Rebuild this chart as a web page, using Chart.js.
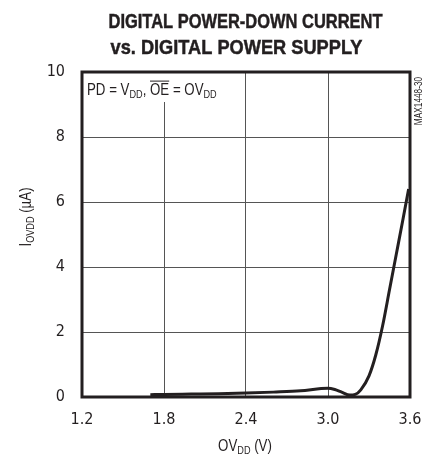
<!DOCTYPE html>
<html>
<head>
<meta charset="utf-8">
<script src="https://cdn.jsdelivr.net/npm/chart.js@4.4.1/dist/chart.umd.min.js"></script>
<style>
  html, body { margin: 0; padding: 0; background: #fff; }
  #wrap { width: 427px; height: 459px; }
</style>
</head>
<body>
<div id="wrap"><canvas id="chart"></canvas></div>
<script>
// supply voltage (V) and current (uA)
var supplyVolts = [1.7, 1.8, 2.0, 2.2, 2.4, 2.6, 2.8, 2.95, 3.0, 3.05, 3.1, 3.16, 3.2, 3.24, 3.3, 3.35, 3.4, 3.45, 3.5, 3.55, 3.59];
var currentUA   = [0.07, 0.08, 0.09, 0.1, 0.12, 0.15, 0.19, 0.26, 0.27, 0.23, 0.15, 0.06, 0.08, 0.22, 0.65, 1.3, 2.2, 3.3, 4.4, 5.5, 6.4];
var xTicks = [1.2, 1.8, 2.4, 3.0, 3.6];
var yTicks = [0, 2, 4, 6, 8, 10];

var FONT = '"Liberation Sans", Arial, sans-serif';
var TICK_FONT = '"DejaVu Sans Condensed", "Liberation Sans", sans-serif';
var SQUEEZE = 0.83;   // fake a condensed face
var INK = '#231f20';

var points = supplyVolts.map(function (v, i) { return { x: v, y: currentUA[i] }; });

// draws text pieces with subscripts / overline in one row, squeezed sideways
function drawRuns(ctx, runs, x, y, size, align) {
    var subSize = Math.round(size * 0.7);
    var total = 0;
    runs.forEach(function (r) {
        ctx.font = (r.sub ? subSize : size) + 'px ' + FONT;
        r.w = ctx.measureText(r.t).width;
        total += r.w;
    });
    ctx.save();
    ctx.translate(x, y);
    ctx.scale(SQUEEZE, 1);
    var cx = align === 'center' ? -total / 2 : 0;
    ctx.textAlign = 'left';
    ctx.textBaseline = 'alphabetic';
    runs.forEach(function (r) {
        ctx.font = (r.sub ? subSize : size) + 'px ' + FONT;
        ctx.fillText(r.t, cx, r.sub ? size * 0.2 : 0);
        if (r.over) {
            ctx.fillRect(cx, -size * 0.9, r.w, 1);
        }
        cx += r.w;
    });
    ctx.restore();
}

// title line squeezed to the width it has in the original
function titleLine(ctx, text, cx, y, width) {
    ctx.font = 'bold 21px ' + FONT;
    var w = ctx.measureText(text).width;
    ctx.save();
    ctx.translate(cx, y);
    ctx.scale(width / w, 1);
    ctx.textAlign = 'center';
    ctx.textBaseline = 'alphabetic';
    ctx.lineWidth = 0.5;
    ctx.strokeStyle = INK;
    ctx.fillText(text, 0, 0);
    ctx.strokeText(text, 0, 0);
    ctx.restore();
}

var decorPlugin = {
    id: 'decor',
    beforeDatasetsDraw: function (chart) {
        var ctx = chart.ctx;
        var a = chart.chartArea;
        // white box behind the condition note
        ctx.save();
        ctx.fillStyle = '#fff';
        ctx.fillRect(a.left + 1, a.top + 1, 146, 29);
        ctx.restore();
    },
    afterDraw: function (chart) {
        var ctx = chart.ctx;
        var a = chart.chartArea;
        ctx.save();
        ctx.fillStyle = INK;

        titleLine(ctx, 'DIGITAL POWER-DOWN CURRENT', 245.5, 28, 274);
        titleLine(ctx, 'vs. DIGITAL POWER SUPPLY', 236.5, 54, 252);

        // frame
        ctx.strokeStyle = INK;
        ctx.lineWidth = 3;
        ctx.strokeRect(a.left, a.top, a.right - a.left, a.bottom - a.top);

        // condition note
        drawRuns(ctx, [
            { t: 'PD = V' }, { t: 'DD', sub: true }, { t: ', ' },
            { t: 'OE', over: true }, { t: ' = OV' }, { t: 'DD', sub: true }
        ], a.left + 5, a.top + 23, 16, 'left');

        // x axis title
        drawRuns(ctx, [{ t: 'OV' }, { t: 'DD', sub: true }, { t: ' (V)' }], 245, 451, 16, 'center');

        // y axis title
        ctx.save();
        ctx.translate(31, 217);
        ctx.rotate(-Math.PI / 2);
        drawRuns(ctx, [{ t: 'I' }, { t: 'OVDD', sub: true }, { t: ' (\u00b5A)' }], 0, 0, 16, 'center');
        ctx.restore();

        // part tag
        ctx.save();
        ctx.translate(422, 101);
        ctx.rotate(-Math.PI / 2);
        ctx.scale(SQUEEZE, 1);
        ctx.font = '10px ' + FONT;
        ctx.textAlign = 'center';
        ctx.fillText('MAX1448-30', 0, 0);
        ctx.restore();

        ctx.restore();
    }
};

new Chart(document.getElementById('chart'), {
    type: 'line',
    data: {
        datasets: [{
            data: points,
            borderColor: INK,
            borderWidth: 3,
            pointRadius: 0,
            cubicInterpolationMode: 'monotone',
            fill: false
        }]
    },
    options: {
        responsive: true,
        maintainAspectRatio: false,
        animation: false,
        layout: { padding: { left: 0, top: 72, right: 17, bottom: 0 } },
        plugins: { legend: { display: false }, tooltip: { enabled: false } },
        scales: {
            x: {
                type: 'linear',
                min: 1.2,
                max: 3.6,
                afterBuildTicks: function (scale) {
                    scale.ticks = xTicks.map(function (v) { return { value: v }; });
                },
                afterFit: function (scale) {
                    scale.height = 62;
                    scale.paddingLeft = 0;
                    scale.paddingRight = 0;
                },
                grid: { color: '#555', lineWidth: 1, drawTicks: false },
                border: { display: false },
                ticks: {
                    padding: 13,
                    color: INK,
                    font: { family: TICK_FONT, size: 16 },
                    callback: function (v) { return Number(v).toFixed(1); }
                }
            },
            y: {
                min: 0,
                max: 10,
                afterBuildTicks: function (scale) {
                    scale.ticks = yTicks.map(function (v) { return { value: v }; });
                },
                afterFit: function (scale) {
                    scale.width = 82;
                    scale.paddingTop = 0;
                    scale.paddingBottom = 0;
                },
                grid: { color: '#555', lineWidth: 1, drawTicks: false },
                border: { display: false },
                ticks: {
                    padding: 17,
                    color: INK,
                    font: { family: TICK_FONT, size: 16 }
                }
            }
        }
    },
    plugins: [decorPlugin]
});
</script>
</body>
</html>
